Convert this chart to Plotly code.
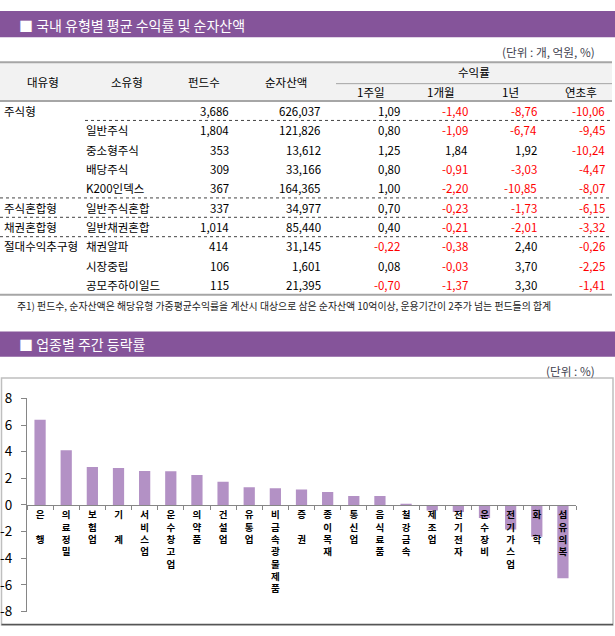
import plotly.graph_objects as go

W, H = 615, 636
FONT = "Noto Sans CJK KR"
PURPLE = "#85549A"
BAR = "#B391C5"
GRID = "#A6A6A6"

# ---------------- table data ----------------
col_headers = ["대유형", "소유형", "펀드수", "순자산액"]
ret_group_header = "수익률"
ret_headers = ["1주일", "1개월", "1년", "연초후"]
big_types = ["주식형", "", "", "", "", "주식혼합형", "채권혼합형", "절대수익추구형", "", ""]
sub_types = ["", "일반주식", "중소형주식", "배당주식", "K200인덱스", "일반주식혼합",
             "일반채권혼합", "채권알파", "시장중립", "공모주하이일드"]
fund_counts = [3686, 1804, 353, 309, 367, 337, 1014, 414, 106, 115]
net_assets = [626037, 121826, 13612, 33166, 164365, 34977, 85440, 31145, 1601, 21395]
ret_1w = [1.09, 0.80, 1.25, 0.80, 1.00, 0.70, 0.40, -0.22, 0.08, -0.70]
ret_1m = [-1.40, -1.09, 1.84, -0.91, -2.20, -0.23, -0.21, -0.38, -0.03, -1.37]
ret_1y = [-8.76, -6.74, 1.92, -3.03, -10.85, -1.73, -2.01, 2.40, 3.70, 3.30]
ret_ytd = [-10.06, -9.45, -10.24, -4.47, -8.07, -6.15, -3.32, -0.26, -2.25, -1.41]

title1 = "■ 국내 유형별 평균 수익률 및 순자산액"
unit1 = "(단위 : 개, 억원, %)"
footnote = "주1) 펀드수, 순자산액은 해당유형 가중평균수익률을 계산시 대상으로 삼은 순자산액 10억이상, 운용기간이 2주가 넘는 펀드들의 합계"

# ---------------- chart data ----------------
title2 = "■ 업종별 주간 등락률"
unit2 = "(단위 : %)"
sectors = ["은　행", "의료 정밀", "보험업", "기　계", "서비스업", "운수 창고업", "의약품",
           "건설업", "유통업", "비금속광물제품", "증　권", "종이 목재", "통신업", "음식료품",
           "철강 금속", "제조업", "전기 전자", "운수 장비", "전기 가스업", "화　학", "섬유의복"]
weekly_change = [6.40, 4.10, 2.85, 2.78, 2.55, 2.53, 2.25, 1.75, 1.33, 1.26, 1.16,
                 0.97, 0.68, 0.67, 0.10, -0.41, -0.53, -0.98, -1.85, -2.38, -5.50]
y_ticks = [8, 6, 4, 2, 0, -2, -4, -6, -8]


def X(x):
    return x / W


def Y(y):
    return 1 - y / H


annotations = []
shapes = []


def text(x, y, s, anchor="left", size=11.5, color="#000000", weight="normal"):
    annotations.append(dict(
        x=X(x), y=Y(y), xref="paper", yref="paper", text=s, showarrow=False,
        xanchor=anchor, yanchor="middle", borderpad=0,
        font=dict(family=FONT, size=size, color=color, weight=weight)))


def hline(x0, x1, y, color=GRID, width=1, dash="solid"):
    shapes.append(dict(type="line", xref="paper", yref="paper",
                       x0=X(x0), x1=X(x1), y0=Y(y), y1=Y(y),
                       line=dict(color=color, width=width, dash=dash)))


def rect(x0, y0, x1, y1, fill=None, line=None):
    shapes.append(dict(type="rect", xref="paper", yref="paper",
                       x0=X(x0), x1=X(x1), y0=Y(y0), y1=Y(y1),
                       fillcolor=fill if fill else "rgba(0,0,0,0)",
                       line=line if line else dict(width=0), layer="below"))


def fmt_ret(v):
    s = f"{abs(v):.2f}".replace(".", ",")
    return ("-" + s) if v < 0 else s


def stack(label):
    # vertical (stacked) label: one character per line; a full-width space
    # becomes an empty line, a normal space is dropped
    parts = []
    for ch in label:
        if ch == " ":
            continue
        parts.append("\u3000" if ch == "\u3000" else ch)
    return "<br>".join(parts)


# ---- banner 1 ----
rect(0, 0, W, 27, fill=PURPLE)
text(18, 14, title1, size=14, color="#FFFFFF")
text(596, 42, unit1, anchor="right", size=11.7, color="#3F3F4F")

# ---- table header ----
TR = 612
rect(0, 53, TR, 93, fill="#F2F2F2")
hline(0, TR, 53, width=2)
hline(0, TR, 93, width=2)
hline(336, TR, 75, width=1)
for s, cx in zip(col_headers, [43, 127, 204, 286]):
    text(cx, 73, s, anchor="center")
text(474, 63, ret_group_header, anchor="center")
for s, cx in zip(ret_headers, [371, 441, 510, 581]):
    text(cx, 84, s, anchor="center")

# ---- table body ----
ROW0, ROWH = 103, 20
right_cols = [230, 322, 401, 469, 538, 606]
for i in range(len(sub_types)):
    cy = ROW0 + ROWH * i
    if big_types[i]:
        text(3, cy, big_types[i])
    if sub_types[i]:
        text(85, cy, sub_types[i])
    text(right_cols[0], cy, f"{fund_counts[i]:,}", anchor="right")
    text(right_cols[1], cy, f"{net_assets[i]:,}", anchor="right")
    for j, series in enumerate([ret_1w, ret_1m, ret_1y, ret_ytd]):
        v = series[i]
        text(right_cols[2 + j], cy, fmt_ret(v), anchor="right",
             color="#FF0000" if v < 0 else "#000000")

# separators
hline(85, TR, ROW0 + ROWH * 0.5, color="#444444", dash="dot")
for k in [4, 5, 6]:
    hline(0, TR, ROW0 + ROWH * (k + 0.5), color="#444444", dash="dot")
hline(0, TR, ROW0 + ROWH * 9.5, width=2)

text(16, 305, footnote, size=9.9, color="#222222")

# ---- banner 2 ----
rect(0, 331, W, 357, fill=PURPLE)
text(18, 344, title2, size=14, color="#FFFFFF")
text(596, 371, unit2, anchor="right", size=11.7, color="#3F3F4F")

# chart frame
rect(1.5, 379, 613, 634, line=dict(color="#BFBFBF", width=1.5))
hline(1.5, 613, 633.5, color="#555555", width=1.5)

# ---- bar chart ----
fig = go.Figure()
fig.add_trace(go.Bar(x=sectors, y=weekly_change, marker=dict(color=BAR, line=dict(width=0)),
                     hoverinfo="skip", showlegend=False))

x_px0, x_px1 = 27, 576
y_px_top, y_px_bot = 400, 620
zero_px = 510

fig.update_layout(
    width=W, height=H, margin=dict(l=0, r=0, t=0, b=0, pad=0),
    paper_bgcolor="#FFFFFF", plot_bgcolor="rgba(0,0,0,0)",
    showlegend=False, bargap=0.57,
    shapes=shapes, annotations=annotations,
    xaxis=dict(domain=[X(x_px0), X(x_px1)], type="category",
               anchor="free", position=Y(zero_px),
               tickvals=sectors, ticktext=[stack(s) for s in sectors],
               tickson="boundaries", ticks="outside", ticklen=4, tickcolor="#868686",
               ticklabelstandoff=1,
               tickfont=dict(family=FONT, size=9.5, color="#000000", weight="bold"),
               showline=True, linecolor="#868686", linewidth=1,
               showgrid=False, zeroline=False, fixedrange=True),
    yaxis=dict(domain=[Y(y_px_bot), Y(y_px_top)], range=[-8, 8],
               tickvals=y_ticks, ticktext=[str(v) for v in y_ticks],
               ticks="outside", ticklen=5, tickcolor="#868686",
               showline=True, linecolor="#868686", linewidth=1,
               showgrid=False, zeroline=False, ticklabelstandoff=6,
               tickfont=dict(family=FONT, size=13.5, color="#000000"), fixedrange=True),
)

fig.write_html("out.html", config={"displayModeBar": False, "staticPlot": True},
               post_script="document.body.style.margin='0px';")
